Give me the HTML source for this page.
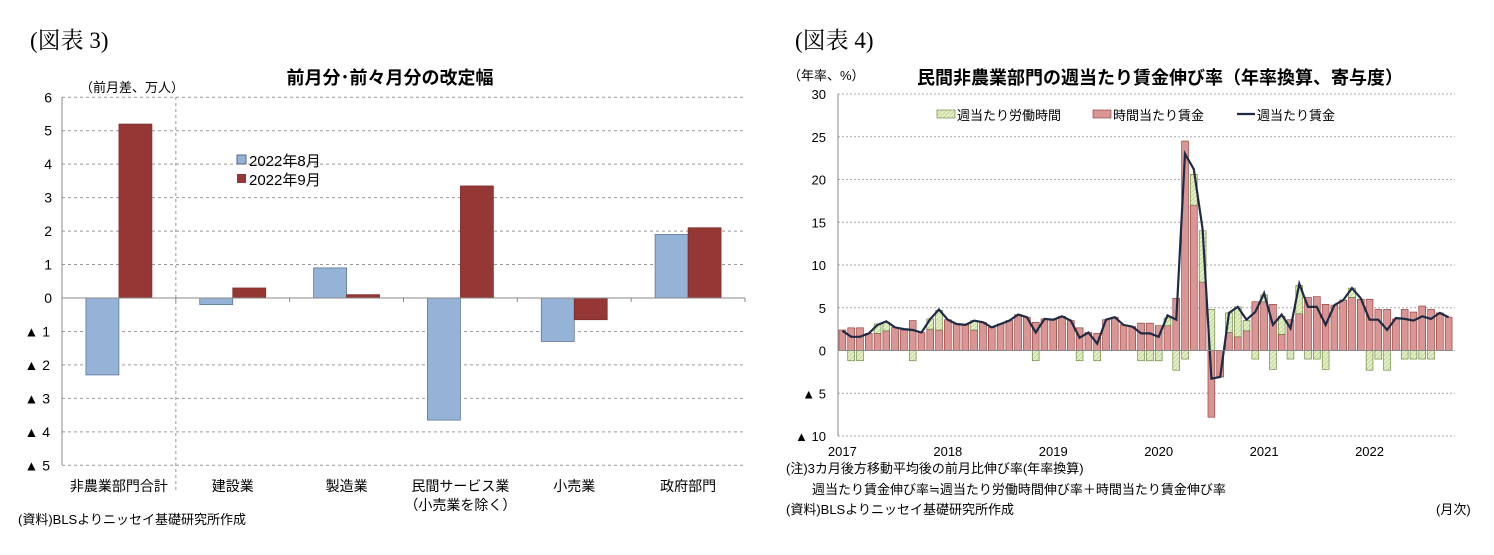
<!DOCTYPE html>
<html><head><meta charset="utf-8"><style>
body{margin:0;background:#fff;width:1494px;height:550px;overflow:hidden;font-family:"Liberation Sans","Noto Sans CJK JP",sans-serif;}
svg text{font-family:"Liberation Sans","Noto Sans CJK JP",sans-serif;}
svg text.serif{font-family:"Liberation Serif","Noto Serif CJK SC",serif;}
</style></head><body>
<svg id="s" width="1494" height="550" xmlns="http://www.w3.org/2000/svg">
<text class="serif" x="30" y="48" font-size="23">(図表 3)</text>
<text x="390" y="84" font-size="18" font-weight="bold" text-anchor="middle">前月分･前々月分の改定幅</text>
<text x="80" y="92" font-size="13">（前月差、万人）</text>
<text x="18" y="524" font-size="13">(資料)BLSよりニッセイ基礎研究所作成</text>
<g id="c1"></g>
<text class="serif" x="795" y="48" font-size="23">(図表 4)</text>
<text x="1160" y="84" font-size="18" font-weight="bold" text-anchor="middle">民間非農業部門の週当たり賃金伸び率（年率換算、寄与度）</text>
<text x="788" y="80" font-size="13">（年率、%）</text>
<g id="c2"></g>
<text x="786" y="473" font-size="13">(注)3カ月後方移動平均後の前月比伸び率(年率換算)</text>
<text x="812" y="494" font-size="13">週当たり賃金伸び率≒週当たり労働時間伸び率＋時間当たり賃金伸び率</text>
<text x="786" y="514" font-size="13">(資料)BLSよりニッセイ基礎研究所作成</text>
<text x="1436" y="514" font-size="13">(月次)</text>
</svg>
<script>
// Chart 1 data
const cats1 = ["非農業部門合計","建設業","製造業","民間サービス業","小売業","政府部門"];
const aug = [-2.3,-0.2,0.9,-3.65,-1.3,1.9];
const sep = [5.2,0.3,0.1,3.35,-0.65,2.1];
const ticks1 = [6,5,4,3,2,1,0,-1,-2,-3,-4,-5];
// Chart 2 data (Jan 2017 - Oct 2022)
const hourly = [2.4,2.65,2.65,2.0,2.0,2.3,2.7,2.4,3.5,2.1,2.5,2.4,
3.6,3.1,3.0,2.4,3.3,2.7,3.1,3.5,4.2,3.9,3.3,3.7,
3.6,4.0,3.5,2.65,2.1,2.0,3.6,3.9,3.0,2.8,3.2,3.2,
2.9,2.9,6.1,24.5,17,8,-7.8,-3.1,2.1,1.6,2.3,5.7,
5.7,5.4,1.9,3.6,4.3,6.2,6.3,5.4,5.3,5.9,6.2,6.0,
6.0,4.8,4.8,3.7,4.8,4.5,5.2,4.8,4.4,3.9];
const hours = [0,-1.2,-1.2,0,1.1,1.0,0,0,-1.2,0,1.2,2.3,
0,0,0,1.1,0,0,0,0,0,0,-1.2,0,
0,0,0,-1.2,0,-1.2,0,0,0,0,-1.2,-1.2,
-1.2,0.9,-2.3,-1,3.6,6,4.8,0,2.3,3.5,1.2,-1,
0.8,-2.2,2.1,-1,3.3,-1,-1,-2.2,0,0,1.1,0,
-2.3,-1,-2.3,0,-1,-1,-1,-1,0,0];
const weekly = [2.3,1.6,1.6,2.0,3.0,3.4,2.7,2.5,2.4,2.1,3.7,4.8,
3.6,3.1,3.0,3.5,3.3,2.7,3.1,3.5,4.2,3.9,2.1,3.7,
3.6,4.0,3.5,1.5,2.1,0.8,3.6,3.9,3.0,2.8,2.0,2.0,
1.6,4.1,3.6,23,21.2,14.2,-3.3,-3.1,4.4,5.1,3.6,4.5,
6.7,3.0,4.2,2.6,7.8,5.1,5.1,3.0,5.3,5.9,7.3,6.1,
3.6,3.6,2.4,3.8,3.7,3.5,4.0,3.7,4.4,3.9];
const years = ["2017","2018","2019","2020","2021","2022"];
const ticks2 = [30,25,20,15,10,5,0,-5,-10];

const NS="http://www.w3.org/2000/svg";
function mk(p,t,a,txt){const e=document.createElementNS(NS,t);for(const k in a)e.setAttribute(k,a[k]);if(txt!==undefined)e.textContent=txt;p.appendChild(e);return e;}
const neg=v=>v<0?"▲ "+(-v):String(v);

// Chart 1
(function(){
const g=document.getElementById('c1');
const L=62,R=745,T=97,B=465,y=v=>298-v*(B-T)/11,bw=(R-L)/6;
ticks1.forEach(t=>{
 if(t!==0){const l=mk(g,'line',{x1:L,x2:R,y1:y(t),y2:y(t),stroke:'#999','stroke-dasharray':'3,3'});
 
 }
 const tx=mk(g,'text',{x:t<0?50:52,y:y(t)+5,'font-size':14,'text-anchor':'end'},neg(t));
 
 
});
const sepl=mk(g,'line',{x1:L+bw,x2:L+bw,y1:T,y2:490,stroke:'#999','stroke-dasharray':'3,3'});


cats1.forEach((c,i)=>{
 const cx=L+bw*(i+0.5);
 [[aug[i],'#95b3d7','#4f6b8f',cx-33],[sep[i],'#953735','#7a2b2a',cx]].forEach(([v,f,s,x])=>{
  const r=mk(g,'rect',{x:x,y:Math.min(y(v),y(0)),width:33,height:Math.abs(y(v)-y(0)),fill:f,stroke:s,'stroke-width':0.7});
  
  
 });
 const t=mk(g,'text',{x:cx,y:491,'font-size':14,'text-anchor':'middle'},c);
 
 
});
const s2=mk(g,'text',{x:L+bw*3.5,y:510,'font-size':14,'text-anchor':'middle'},'（小売業を除く）');


mk(g,'line',{x1:L,x2:L,y1:T,y2:B,stroke:'#888'});
mk(g,'line',{x1:L,x2:R,y1:y(0),y2:y(0),stroke:'#888'});
for(let i=0;i<=6;i++)mk(g,'line',{x1:L+bw*i,x2:L+bw*i,y1:y(0),y2:y(0)+4,stroke:'#888'});
const lg=mk(g,'g',{});


mk(lg,'rect',{x:237,y:155,width:9,height:9,fill:'#95b3d7',stroke:'#4f6b8f'});
mk(lg,'text',{x:249,y:166,'font-size':15},'2022年8月');
mk(lg,'rect',{x:237,y:174,width:9,height:9,fill:'#953735'});
mk(lg,'text',{x:249,y:185,'font-size':15},'2022年9月');
})();

// Chart 2
(function(){
const g=document.getElementById('c2');
const L=838,R=1453,T=94,B=436,y=v=>T+(30-v)*(B-T)/40,bw=(R-L)/70;
ticks2.forEach(t=>{
 const l=mk(g,'line',{x1:L,x2:R+2,y1:y(t),y2:y(t),stroke:'#aaa','stroke-dasharray':'2,2'});
 
 
 const tx=mk(g,'text',{x:826,y:y(t)+5,'font-size':13,'text-anchor':'end'},neg(t));
 
 
});
const defs=mk(g,'defs',{});
const pat=mk(defs,'pattern',{id:'hatch',width:3,height:3,patternUnits:'userSpaceOnUse',patternTransform:'rotate(45)'});
mk(pat,'rect',{width:3,height:3,fill:'#e6f0c8'});
mk(pat,'line',{x1:0,y1:0,x2:0,y2:3,stroke:'#a8c878','stroke-width':1.2});
const bwid=bw*0.78;
hourly.forEach((h,i)=>{
 const x=L+bw*i+(bw-bwid)/2;
 const r=mk(g,'rect',{x:x,y:Math.min(y(h),y(0)),width:bwid,height:Math.abs(y(h)-y(0)),fill:'#da9694',stroke:'#8b2f2e','stroke-width':0.6});
 
 
 const hv=hours[i];
 if(hv!==0){
  const base=(hv>0&&h>0)?h:((hv<0&&h<0)?h:0);
  const y1=y(base),y2=y(base+hv);
  const q=mk(g,'rect',{x:x,y:Math.min(y1,y2),width:bwid,height:Math.abs(y2-y1),fill:'url(#hatch)',stroke:'#5a7a30','stroke-width':0.6});
  
  
 }
});
const pts=weekly.map((v,i)=>(L+bw*(i+0.5)).toFixed(1)+','+y(v).toFixed(1)).join(' ');
const pl=mk(g,'polyline',{points:pts,fill:'none',stroke:'#1f2a44','stroke-width':2.2});


mk(g,'line',{x1:L,x2:L,y1:T,y2:B,stroke:'#888'});
mk(g,'line',{x1:L,x2:R,y1:y(0),y2:y(0),stroke:'#888'});
years.forEach((yr,k)=>{
 const t=mk(g,'text',{x:L+bw*(k*12+0.5),y:456,'font-size':13,'text-anchor':'middle'},yr);
 
 
});
const lg=mk(g,'g',{});


mk(lg,'rect',{x:937,y:110,width:18,height:8,fill:'url(#hatch)',stroke:'#5a7a30','stroke-width':0.6});
mk(lg,'text',{x:957,y:120,'font-size':13},'週当たり労働時間');
mk(lg,'rect',{x:1093,y:110,width:18,height:8,fill:'#da9694',stroke:'#8b2f2e','stroke-width':0.6});
mk(lg,'text',{x:1113,y:120,'font-size':13},'時間当たり賃金');
mk(lg,'line',{x1:1237,x2:1255,y1:114,y2:114,stroke:'#1f2a44','stroke-width':2.2});
mk(lg,'text',{x:1257,y:120,'font-size':13},'週当たり賃金');
})();
</script>
</body></html>
